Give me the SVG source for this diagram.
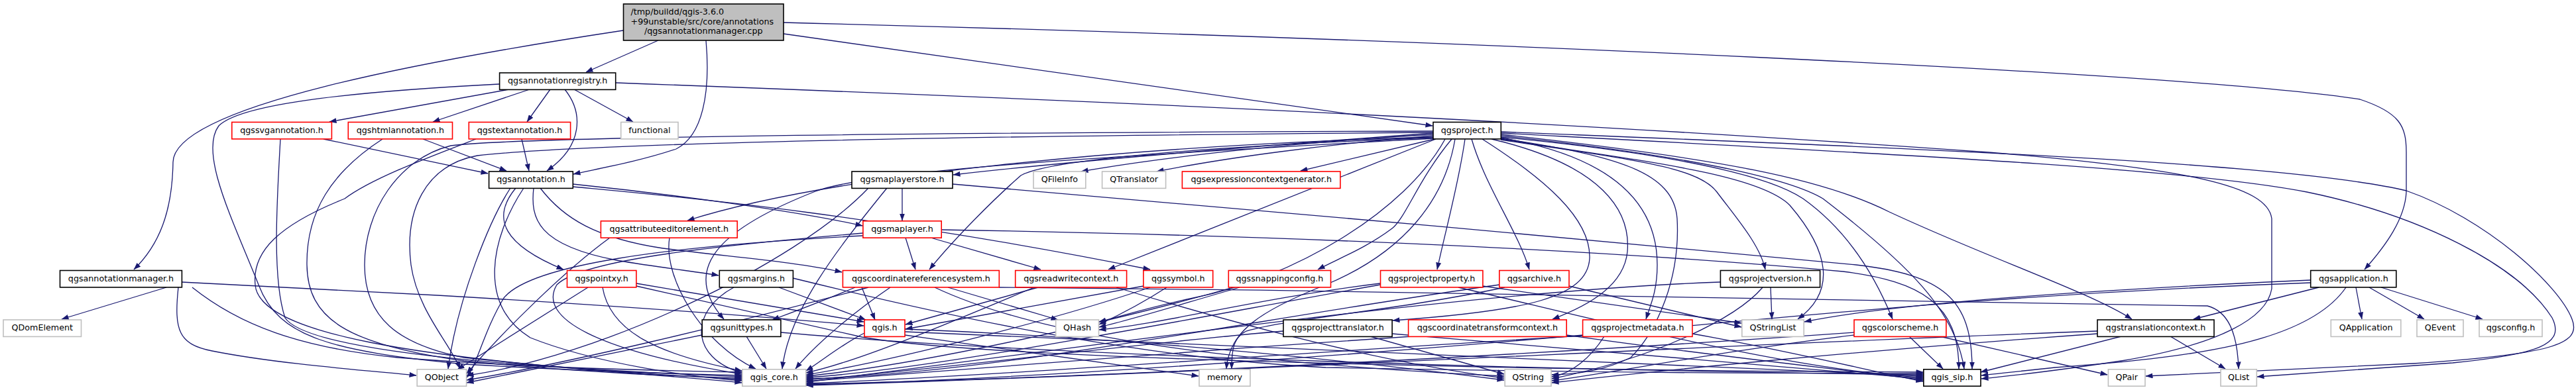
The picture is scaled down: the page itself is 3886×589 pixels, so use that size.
<svg xmlns="http://www.w3.org/2000/svg" width="3886" height="589" viewBox="0 0 3886 589">
<defs>
<style>
.e{fill:none;stroke:#191970;stroke-width:1.3;marker-end:url(#ah)}
.n rect{fill:#fff;stroke-width:1.6}
.k rect{stroke:#000}
.r rect{stroke:#ff0000}
.g rect{stroke:#bfbfbf}
text{font-family:"DejaVu Sans",sans-serif;font-size:12.7px;fill:#000;text-anchor:middle}
</style>
<marker id="ah" markerUnits="userSpaceOnUse" markerWidth="11" markerHeight="8" viewBox="0 0 11 8" refX="10.5" refY="4" orient="auto"><path d="M0,0L11,4L0,8z" fill="#191970"/></marker>
</defs>
<rect width="3886" height="589" fill="#fff"/>
<g id="edges">
<path class="e" d="M940,46 C650,90 262,160 261,245 C260,320 240,370 202,407"/>
<path class="e" d="M993,61 L884,109"/>
<path class="e" d="M1065,61 C1072,140 1060,205 1020,225 C960,245 900,255 865,263"/>
<path class="e" d="M1182,51 L2161,190"/>
<path class="e" d="M1182,34 C2200,60 3300,110 3560,150 C3620,170 3630,190 3630,230 L3630,290 C3628,330 3600,370 3567,407"/>
<path class="e" d="M251,434 L93,482"/>
<path class="e" d="M269,434 C262,500 270,520 320,530 C420,550 560,560 628,567"/>
<path class="e" d="M290,434 C360,490 450,525 600,540 C800,556 1000,560 1119,562"/>
<path class="e" d="M274,426 L660,446 C900,460 1150,478 1303,492"/>
<path class="e" d="M768,135 L497,184"/>
<path class="e" d="M799,135 L653,184"/>
<path class="e" d="M830,135 L795,184"/>
<path class="e" d="M852,135 C880,170 880,220 825,258"/>
<path class="e" d="M866,135 L955,184"/>
<path class="e" d="M753,127 C500,140 360,160 330,190 C300,230 350,330 390,430 C420,510 500,530 700,550 C900,562 1050,565 1119,567"/>
<path class="e" d="M929,125 C1600,150 2300,180 3000,230 C3300,255 3420,280 3427,330 L3427,436 C3420,480 3350,520 3200,545 C3100,560 3030,568 2989,572"/>
<path class="e" d="M488,210 L736,262"/>
<path class="e" d="M423,210 C418,300 410,420 430,480 C470,540 900,560 1119,569"/>
<path class="e" d="M638,210 L764,258"/>
<path class="e" d="M577,210 C500,260 462,320 463,400 C464,480 520,520 700,545 C900,565 1050,569 1119,571"/>
<path class="e" d="M787,210 L798,258"/>
<path class="e" d="M718,210 C640,240 560,270 520,300 C420,340 380,380 385,430 C390,500 600,545 1119,573"/>
<path class="e" d="M770,284 C740,330 690,450 676,557"/>
<path class="e" d="M790,284 C740,360 720,460 800,510 C900,550 1050,570 1119,575"/>
<path class="e" d="M864,278 C1000,292 1200,318 1301,341"/>
<path class="e" d="M778,284 C740,330 760,370 850,407"/>
<path class="e" d="M805,284 C800,330 810,370 930,393 C1000,405 1050,410 1084,416"/>
<path class="e" d="M815,284 C850,330 900,360 1000,375 C1100,388 1200,395 1270,411"/>
<path class="e" d="M864,282 C1000,295 1300,320 1735,407"/>
<path class="e" d="M1310,284 C1200,400 900,540 704,567"/>
<path class="e" d="M1338,284 C1260,380 1190,470 1180,557"/>
<path class="e" d="M1361,284 L1361,333"/>
<path class="e" d="M1437,278 C1800,310 2400,360 2800,400 C2930,415 2975,450 2975,557"/>
<path class="e" d="M2162,201 C1900,220 1600,245 1438,264"/>
<path class="e" d="M2162,203 C1950,215 1750,238 1631,259"/>
<path class="e" d="M2162,205 C2000,218 1850,238 1745,259"/>
<path class="e" d="M2164,210 L1962,258"/>
<path class="e" d="M2162,207 C1700,220 1250,265 1037,333"/>
<path class="e" d="M2162,208 C1800,222 1580,242 1540,265 C1500,300 1440,360 1402,407"/>
<path class="e" d="M2166,210 L1672,407"/>
<path class="e" d="M2190,210 C2140,270 2120,330 2100,345 C2060,375 2020,390 1988,407"/>
<path class="e" d="M2210,210 C2200,280 2180,350 2168,407"/>
<path class="e" d="M2220,210 C2240,280 2290,350 2307,407"/>
<path class="e" d="M2162,209 C1700,235 1320,255 1230,289 C1100,340 1020,400 1092,482"/>
<path class="e" d="M2236,210 C2330,270 2400,330 2398,390 C2395,450 2300,470 2101,484"/>
<path class="e" d="M2250,210 C2420,250 2460,320 2455,380 C2450,430 2400,460 2342,482"/>
<path class="e" d="M2264,208 C2450,240 2500,320 2500,400 C2500,440 2490,460 2483,482"/>
<path class="e" d="M2264,211 C2450,240 2560,250 2590,290 C2620,330 2655,370 2663,407"/>
<path class="e" d="M2264,210 C2450,240 2650,260 2700,310 C2760,380 2770,440 2712,482"/>
<path class="e" d="M2264,207 C2500,230 2660,260 2720,300 C2790,350 2830,420 2855,482"/>
<path class="e" d="M2264,205 C2550,235 2700,270 2750,300 C2880,400 2950,470 2963,557"/>
<path class="e" d="M2264,203 C2600,240 2750,270 2850,320 C3000,390 3150,440 3216,482"/>
<path class="e" d="M2264,201 C2900,235 3300,255 3480,290 C3650,325 3800,400 3850,480 C3870,520 3830,535 3700,548 C3580,557 3460,565 3405,569"/>
<path class="e" d="M2264,199 C2900,225 3450,245 3630,288 C3750,330 3860,430 3880,482 C3895,520 3850,535 3640,549 C3450,558 3300,565 3237,568"/>
<path class="e" d="M2195,210 C2180,300 2120,380 2000,430 C1900,470 1855,500 1850,557"/>
<path class="e" d="M2180,210 C2120,320 1950,420 1800,450 C1730,465 1690,478 1658,486"/>
<path class="e" d="M2162,200 C1500,205 900,215 720,235 C640,250 610,320 620,400 C630,470 680,520 694,557"/>
<path class="e" d="M2162,198 C1500,200 800,205 680,220 C600,240 550,320 550,400 C550,480 600,520 700,540 C900,562 1050,570 1119,578"/>
<path class="e" d="M2264,209 C2440,235 2525,260 2530,330 C2535,420 2500,500 2460,540 C2420,560 2380,565 2341,566"/>
<path class="e" d="M920,359 C850,410 760,500 704,564"/>
<path class="e" d="M1010,359 C1000,420 1060,520 1140,557"/>
<path class="e" d="M1302,356 C1000,372 800,400 760,450 C730,500 720,550 704,570"/>
<path class="e" d="M1302,352 C1100,370 880,390 840,430 C810,480 900,530 1119,565"/>
<path class="e" d="M1366,359 L1381,407"/>
<path class="e" d="M1404,359 L1570,407"/>
<path class="e" d="M1420,347 C1900,355 2400,375 2780,410 C2900,425 2955,460 2955,557"/>
<path class="e" d="M887,434 L690,558"/>
<path class="e" d="M909,434 C920,500 990,535 1119,560"/>
<path class="e" d="M960,428 L1303,486"/>
<path class="e" d="M960,432 L1300,509 C1500,545 2400,560 2901,562"/>
<path class="e" d="M1107,434 C1040,470 1040,540 1119,563"/>
<path class="e" d="M1175,434 L1306,483"/>
<path class="e" d="M1196,420 C1400,470 1700,540 2000,555 C2500,565 2800,564 2901,564"/>
<path class="e" d="M1310,434 C1100,490 850,550 704,574"/>
<path class="e" d="M1343,434 C1290,470 1230,520 1200,557"/>
<path class="e" d="M1300,434 L1320,483"/>
<path class="e" d="M1290,434 C1240,455 1200,470 1165,483"/>
<path class="e" d="M1430,434 L1596,483"/>
<path class="e" d="M1410,434 C1550,500 1800,545 2269,568"/>
<path class="e" d="M1507,434 C2200,440 3000,455 3330,462 C3360,470 3375,500 3377,557"/>
<path class="e" d="M1566,434 L1366,490"/>
<path class="e" d="M1560,434 C1450,480 1300,545 1216,563"/>
<path class="e" d="M1684,434 C1900,500 2100,550 2269,571"/>
<path class="e" d="M1725,432 L1366,497"/>
<path class="e" d="M1735,434 C1600,480 1350,545 1216,566"/>
<path class="e" d="M1760,434 C1720,460 1690,475 1658,490"/>
<path class="e" d="M1860,434 C1700,480 1400,550 1216,568"/>
<path class="e" d="M1870,434 C1780,460 1700,485 1658,494"/>
<path class="e" d="M2082,430 C1800,480 1400,560 1216,570"/>
<path class="e" d="M2082,428 C1900,450 1750,490 1658,498"/>
<path class="e" d="M2237,432 L2627,488"/>
<path class="e" d="M2200,434 C2400,480 2700,560 2901,570"/>
<path class="e" d="M2262,430 C1900,480 1500,565 1216,572"/>
<path class="e" d="M2367,432 L2627,494"/>
<path class="e" d="M2270,434 C2100,470 1950,480 1880,500 C1860,510 1858,530 1858,557"/>
<path class="e" d="M2671,434 L2673,482"/>
<path class="e" d="M2595,426 C2200,440 1600,530 1216,577"/>
<path class="e" d="M2659,434 C2620,480 2500,540 2341,572"/>
<path class="e" d="M3554,434 L3563,482"/>
<path class="e" d="M3574,434 L3657,482"/>
<path class="e" d="M3592,434 L3745,482"/>
<path class="e" d="M3498,434 L3309,482"/>
<path class="e" d="M3486,427 C3000,445 2700,480 2400,505 C2000,540 1500,575 1216,581"/>
<path class="e" d="M3539,434 C3480,520 3300,540 3100,555 C3050,560 3010,565 2989,567"/>
<path class="e" d="M3486,423 C3100,440 2850,460 2722,486"/>
<path class="e" d="M1059,506 L704,578"/>
<path class="e" d="M1126,508 L1156,557"/>
<path class="e" d="M1178,502 C1600,540 2400,560 2901,566"/>
<path class="e" d="M1304,503 C1270,520 1240,545 1216,560"/>
<path class="e" d="M1365,506 L1808,568"/>
<path class="e" d="M1365,497 C1700,510 2000,540 2269,574"/>
<path class="e" d="M1365,501 C1800,520 2500,550 2901,568"/>
<path class="e" d="M1936,500 C1700,520 1400,560 1216,574"/>
<path class="e" d="M2067,508 L2269,565"/>
<path class="e" d="M2100,504 C2400,530 2700,555 2901,572"/>
<path class="e" d="M2130,508 C1800,530 1400,560 1216,576"/>
<path class="e" d="M2363,506 C2600,540 2800,560 2901,574"/>
<path class="e" d="M2388,507 C2000,530 1500,568 1216,579"/>
<path class="e" d="M2553,504 C2700,530 2820,560 2901,576"/>
<path class="e" d="M2420,508 C2400,540 2370,565 2341,569"/>
<path class="e" d="M2797,502 C2400,530 1700,570 1216,580"/>
<path class="e" d="M2880,508 L2931,557"/>
<path class="e" d="M2926,508 L3179,566"/>
<path class="e" d="M2797,506 C2600,530 2450,560 2341,575"/>
<path class="e" d="M3164,500 C2600,520 1800,565 1216,582"/>
<path class="e" d="M3200,508 L2988,562"/>
<path class="e" d="M3274,508 L3357,557"/>
<path class="e" d="M3164,504 C2800,530 2500,560 2341,578"/>
</g>
<g id="root" class="n k"><rect x="940.5" y="6" width="241.5" height="55" style="fill:#bfbfbf"/><text x="951.5" y="22" style="text-anchor:start">/tmp/buildd/qgis-3.6.0</text><text x="951.5" y="36.5" style="text-anchor:start">+99unstable/src/core/annotations</text><text x="1061.3" y="51">/qgsannotationmanager.cpp</text></g>
<g id="n_registry" class="n k"><rect x="753.6" y="110" width="175.1" height="25.4"/><text x="841.2" y="126.3">qgsannotationregistry.h</text></g>
<g id="n_svg" class="n r"><rect x="349.8" y="184.5" width="150.6" height="25.4"/><text x="425.1" y="200.8">qgssvgannotation.h</text></g>
<g id="n_html" class="n r"><rect x="525.3" y="184.5" width="157.2" height="25.4"/><text x="603.9" y="200.8">qgshtmlannotation.h</text></g>
<g id="n_text" class="n r"><rect x="707.3" y="184.5" width="153.3" height="25.4"/><text x="784" y="200.8">qgstextannotation.h</text></g>
<g id="n_functional" class="n g"><rect x="936.7" y="184.5" width="86.3" height="25.4"/><text x="979.9" y="200.8">functional</text></g>
<g id="n_project" class="n k"><rect x="2162" y="184.5" width="102.3" height="25.4"/><text x="2213.2" y="200.8">qgsproject.h</text></g>
<g id="n_annotation" class="n k"><rect x="737.6" y="259" width="126.7" height="25.4"/><text x="801" y="275.3">qgsannotation.h</text></g>
<g id="n_maplayerstore" class="n k"><rect x="1285" y="259" width="152" height="25.4"/><text x="1361" y="275.3">qgsmaplayerstore.h</text></g>
<g id="n_qfileinfo" class="n g"><rect x="1559" y="259" width="78.8" height="25.4"/><text x="1598.4" y="275.3">QFileInfo</text></g>
<g id="n_qtranslator" class="n g"><rect x="1662.6" y="259" width="96" height="25.4"/><text x="1710.6" y="275.3">QTranslator</text></g>
<g id="n_ecg" class="n r"><rect x="1783.4" y="259" width="238.5" height="25.4"/><text x="1902.7" y="275.3">qgsexpressioncontextgenerator.h</text></g>
<g id="n_aee" class="n r"><rect x="906.4" y="333.8" width="205.8" height="25.4"/><text x="1009.3" y="350.1">qgsattributeeditorelement.h</text></g>
<g id="n_maplayer" class="n r"><rect x="1301.9" y="333.8" width="118.3" height="25.4"/><text x="1361.1" y="350.1">qgsmaplayer.h</text></g>
<g id="n_manager" class="n k"><rect x="90.5" y="408.5" width="183.9" height="25.4"/><text x="182.5" y="424.8">qgsannotationmanager.h</text></g>
<g id="n_pointxy" class="n r"><rect x="855.5" y="408.5" width="104.4" height="25.4"/><text x="907.7" y="424.8">qgspointxy.h</text></g>
<g id="n_margins" class="n k"><rect x="1085.3" y="408.5" width="111.1" height="25.4"/><text x="1140.9" y="424.8">qgsmargins.h</text></g>
<g id="n_crs" class="n r"><rect x="1271.4" y="408.5" width="235.9" height="25.4"/><text x="1389.4" y="424.8">qgscoordinatereferencesystem.h</text></g>
<g id="n_rwc" class="n r"><rect x="1531.7" y="408.5" width="167.9" height="25.4"/><text x="1615.7" y="424.8">qgsreadwritecontext.h</text></g>
<g id="n_symbol" class="n r"><rect x="1724.9" y="408.5" width="104.8" height="25.4"/><text x="1777.3" y="424.8">qgssymbol.h</text></g>
<g id="n_snapping" class="n r"><rect x="1853.3" y="408.5" width="154.2" height="25.4"/><text x="1930.4" y="424.8">qgssnappingconfig.h</text></g>
<g id="n_property" class="n r"><rect x="2082.5" y="408.5" width="154.4" height="25.4"/><text x="2159.7" y="424.8">qgsprojectproperty.h</text></g>
<g id="n_archive" class="n r"><rect x="2261.8" y="408.5" width="105.2" height="25.4"/><text x="2314.4" y="424.8">qgsarchive.h</text></g>
<g id="n_version" class="n k"><rect x="2595.4" y="408.5" width="150.2" height="25.4"/><text x="2670.5" y="424.8">qgsprojectversion.h</text></g>
<g id="n_application" class="n k"><rect x="3485.7" y="408.5" width="129.1" height="25.4"/><text x="3550.3" y="424.8">qgsapplication.h</text></g>
<g id="n_qdomelement" class="n g"><rect x="5" y="483" width="117.5" height="25.4"/><text x="63.8" y="499.3">QDomElement</text></g>
<g id="n_unittypes" class="n k"><rect x="1059.2" y="483" width="118.7" height="25.4"/><text x="1118.6" y="499.3">qgsunittypes.h</text></g>
<g id="n_qgis" class="n r"><rect x="1304" y="483" width="61" height="25.4"/><text x="1334.5" y="499.3">qgis.h</text></g>
<g id="n_qhash" class="n g"><rect x="1592.7" y="483" width="64.8" height="25.4"/><text x="1625.1" y="499.3">QHash</text></g>
<g id="n_translator" class="n k"><rect x="1936" y="483" width="164.1" height="25.4"/><text x="2018.1" y="499.3">qgsprojecttranslator.h</text></g>
<g id="n_ctc" class="n r"><rect x="2124.6" y="483" width="238.6" height="25.4"/><text x="2243.9" y="499.3">qgscoordinatetransformcontext.h</text></g>
<g id="n_metadata" class="n r"><rect x="2387.6" y="483" width="165.4" height="25.4"/><text x="2470.3" y="499.3">qgsprojectmetadata.h</text></g>
<g id="n_qstringlist" class="n g"><rect x="2627.8" y="483" width="93.4" height="25.4"/><text x="2674.5" y="499.3">QStringList</text></g>
<g id="n_colorscheme" class="n r"><rect x="2797" y="483" width="138.9" height="25.4"/><text x="2866.5" y="499.3">qgscolorscheme.h</text></g>
<g id="n_tc" class="n k"><rect x="3164" y="483" width="176" height="25.4"/><text x="3252" y="499.3">qgstranslationcontext.h</text></g>
<g id="n_qapplication" class="n g"><rect x="3516.3" y="483" width="105.5" height="25.4"/><text x="3569.1" y="499.3">QApplication</text></g>
<g id="n_qevent" class="n g"><rect x="3646" y="483" width="70" height="25.4"/><text x="3681" y="499.3">QEvent</text></g>
<g id="n_qgsconfig" class="n g"><rect x="3740" y="483" width="95" height="25.4"/><text x="3787.5" y="499.3">qgsconfig.h</text></g>
<g id="n_qobject" class="n g"><rect x="629.2" y="557.8" width="74.4" height="25.4"/><text x="666.4" y="574.1">QObject</text></g>
<g id="n_qgiscore" class="n g"><rect x="1119.8" y="557.8" width="96" height="25.4"/><text x="1167.8" y="574.1">qgis_core.h</text></g>
<g id="n_memory" class="n g"><rect x="1809" y="557.8" width="77" height="25.4"/><text x="1847.5" y="574.1">memory</text></g>
<g id="n_qstring" class="n g"><rect x="2270.2" y="557.8" width="69.8" height="25.4"/><text x="2305.1" y="574.1">QString</text></g>
<g id="n_qgissip" class="n k"><rect x="2901.8" y="557.8" width="86.2" height="25.4"/><text x="2944.9" y="574.1">qgis_sip.h</text></g>
<g id="n_qpair" class="n g"><rect x="3180.4" y="557.8" width="55.6" height="25.4"/><text x="3208.2" y="574.1">QPair</text></g>
<g id="n_qlist" class="n g"><rect x="3350" y="557.8" width="54.3" height="25.4"/><text x="3377.2" y="574.1">QList</text></g>
</svg>
